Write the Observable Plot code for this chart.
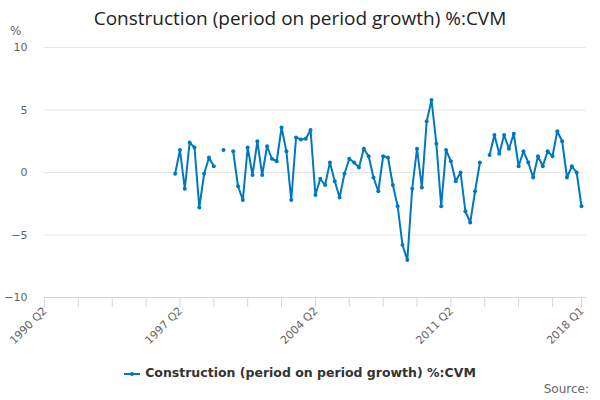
<!DOCTYPE html>
<html>
<head>
<meta charset="utf-8">
<script src="https://cdn.jsdelivr.net/npm/d3@7"></script>
<script src="https://cdn.jsdelivr.net/npm/@observablehq/plot@0.6"></script>
<style>
  body { margin: 0; background: #fff; }
  #wrap { position: relative; width: 600px; height: 400px; font-family: "DejaVu Sans", sans-serif; }
  #wrap svg { position: absolute; left: 0; top: 0; }
  .title { position: absolute; left: 0; width: 600px; top: 5px; text-align: center; font-family: "Open Sans", sans-serif; font-size: 19px; color: #222; }
  .unit { position: absolute; left: 10px; top: 24px; font-size: 12px; color: #666; }
  .legend { position: absolute; left: 0; width: 600px; top: 365px; text-align: center; font-size: 12.5px; font-weight: bold; color: #333; }
  .legend svg { position: static !important; vertical-align: middle; margin-right: 5px; }
  .source { position: absolute; right: 11px; top: 382px; font-size: 12px; color: #666; }
</style>
</head>
<body>
<div id="wrap">
  <div class="title">Construction (period on period growth) %:CVM</div>
  <div class="unit">%</div>
  <div class="legend"><svg width="16" height="10"><line x1="0" y1="5" x2="16" y2="5" stroke="#0078c0" stroke-width="2"/><circle cx="8" cy="5" r="2" fill="#0078c0"/></svg>Construction (period on period growth) %:CVM</div>
  <div class="source">Source:</div>
</div>
<script>
// Quarterly categories 1990 Q2 .. 2018 Q1
const firstYear = 1990, firstQ = 2, lastYear = 2018, lastQ = 1;
const categories = [];
for (let y = firstYear, q = firstQ; y < lastYear || (y === lastYear && q <= lastQ); ) {
  categories.push(`${y} Q${q}`);
  q++; if (q > 4) { q = 1; y++; }
}
const tickLabels = ["1990 Q2", "1997 Q2", "2004 Q2", "2011 Q2", "2018 Q1"];
const seriesStart = "1997 Q1";
// values from 1997 Q1 to 2018 Q1 (null = missing)
const values = [
  -0.1, 1.8, -1.3, 2.4, 2.0, -2.8, -0.1, 1.2, 0.5, null,
  1.8, null, 1.7, -1.1, -2.2, 2.0, -0.2, 2.5, -0.2, 2.1,
  1.1, 0.9, 3.6, 1.7, -2.2, 2.8, 2.65, 2.7, 3.4, -1.8,
  -0.5, -1.0, 0.8, -0.7, -2.0, -0.1, 1.1, 0.8, 0.4, 1.9,
  1.3, -0.4, -1.5, 1.3, 1.2, -1.0, -2.7, -5.8, -7.0, -1.3,
  1.9, -1.2, 4.1, 5.8, 2.3, -2.7, 1.8, 0.9, -0.7, 0.0,
  -3.1, -4.0, -1.5, 0.8, null, 1.4, 3.0, 1.5, 3.0, 1.9,
  3.1, 0.5, 1.7, 0.8, -0.4, 1.3, 0.5, 1.7, 1.3, 3.3,
  2.5, -0.4, 0.5, 0.0, -2.7
];
const yTicks = [-10, -5, 0, 5, 10];

const startIdx = categories.indexOf(seriesStart);
const data = values.map((v, i) => ({ i: startIdx + i, label: categories[startIdx + i], v }));
const n = categories.length;
const minorTicks = d3.range(0, n, 7).concat([n - 1]);
const labelIdx = tickLabels.map(l => categories.indexOf(l));
const color = "#0078c0";

const chart = Plot.plot({
  width: 600,
  height: 400,
  marginLeft: 44,
  marginRight: 19,
  marginTop: 47,
  marginBottom: 103,
  style: { fontFamily: "DejaVu Sans, sans-serif", fontSize: "11px", color: "#666", background: "transparent" },
  x: { domain: [0, n - 1], axis: null },
  y: { domain: [-10, 10], axis: null },
  marks: [
    Plot.ruleY(yTicks.filter(t => t > -10), { x1: 0, x2: n, stroke: "#e6e6e6" }),
    Plot.ruleY([-10], { x1: 0, x2: n, stroke: "#ccd6eb" }),
    Plot.ruleX(minorTicks, { x: d => d, y1: -10, y2: -10.8, stroke: "#ccd6eb" }),
    Plot.axisY(yTicks, { tickSize: 0, tickPadding: 17, fill: "#666", label: null }),
    Plot.text(labelIdx, { x: d => d, text: d => categories[d], frameAnchor: "bottom", dy: 14, dx: 3, rotate: -45, textAnchor: "end", fill: "#666", fontSize: 11 }),
    Plot.line(data, { x: "i", y: "v", stroke: color, strokeWidth: 2 }),
    Plot.dot(data.filter(d => d.v != null), { x: "i", y: "v", r: 2, fill: color, stroke: "none" })
  ]
});
document.getElementById("wrap").prepend(chart);
</script>
</body>
</html>
